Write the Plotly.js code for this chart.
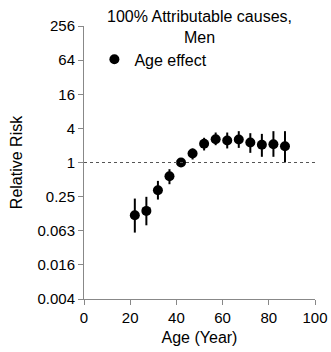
<!DOCTYPE html>
<html>
<head>
<meta charset="utf-8">
<script src="https://cdn.plot.ly/plotly-3.0.1.min.js"></script>
<style>html,body{margin:0;padding:0;background:#fff;}#chart{width:331px;height:352px;}</style>
</head>
<body>
<div id="chart"></div>
<script>
const ages = [22, 27, 32, 37, 42, 47, 52, 57, 62, 67, 72, 77, 82, 87];
const rr = [0.117, 0.140, 0.325, 0.573, 1.0, 1.44, 2.14, 2.58, 2.45, 2.55, 2.25, 2.05, 2.1, 1.94];
const upper = [0.231, 0.248, 0.474, 0.762, 1.0, 1.77, 2.73, 3.38, 3.38, 3.57, 3.29, 3.2, 3.57, 3.57];
const lower = [0.058, 0.078, 0.222, 0.414, 1.0, 1.13, 1.63, 2.02, 1.77, 1.81, 1.48, 1.26, 1.26, 1.0];
const yTickVals = [0.00390625, 0.015625, 0.0625, 0.25, 1, 4, 16, 64, 256];
const yTickText = ['0.004', '0.016', '0.063', '0.25', '1', '4', '16', '64', '256'];
const xTickVals = [0, 20, 40, 60, 80, 100];
const titleText = '100% Attributable causes,<br>Men';

const plus = rr.map((v, i) => upper[i] - v);
const minus = rr.map((v, i) => v - lower[i]);

const font = 'Liberation Sans, Arial, sans-serif';
const trace = {
  x: ages, y: rr, type: 'scatter', mode: 'markers', name: 'Age effect',
  marker: {color: '#000', size: 10},
  error_y: {type: 'data', symmetric: false, array: plus, arrayminus: minus,
            color: '#000', thickness: 2, width: 0}
};
const layout = {
  width: 331, height: 352,
  margin: {l: 84, r: 16, t: 26, b: 53},
  paper_bgcolor: '#fff', plot_bgcolor: '#fff',
  font: {family: font, color: '#000'},
  showlegend: true,
  legend: {x: 0.045, xanchor: 'left', y: 0.94, yanchor: 'top', bgcolor: 'rgba(0,0,0,0)',
           font: {size: 16, family: font}, itemwidth: 30, tracegroupgap: 0},
  annotations: [{text: titleText, showarrow: false, xref: 'paper', x: 0.5, xanchor: 'center',
                 yref: 'paper', y: 0.995, yanchor: 'middle', align: 'center',
                 font: {size: 16, family: font, color: '#000'}}],
  xaxis: {range: [0, 100], tickvals: xTickVals, ticks: 'outside', ticklen: 5, tickcolor: '#888',
          showline: true, linecolor: '#888', linewidth: 1, showgrid: false, zeroline: false,
          tickfont: {size: 15, family: font},
          title: {text: 'Age (Year)', font: {size: 16, family: font}, standoff: 6}},
  yaxis: {type: 'log', range: [Math.log10(0.00390625), Math.log10(256)],
          tickvals: yTickVals, ticktext: yTickText, ticks: 'outside', ticklen: 5, tickcolor: '#888',
          showline: true, linecolor: '#888', linewidth: 1, showgrid: false, zeroline: false,
          tickfont: {size: 15, family: font},
          title: {text: 'Relative Risk', font: {size: 16, family: font}, standoff: 10}},
  shapes: [{type: 'line', xref: 'paper', x0: 0, x1: 1, yref: 'y', y0: 1, y1: 1,
            line: {color: '#555', width: 1, dash: 'dot'}}]
};
Plotly.newPlot('chart', [trace], layout, {displayModeBar: false, staticPlot: true});
</script>
</body>
</html>
